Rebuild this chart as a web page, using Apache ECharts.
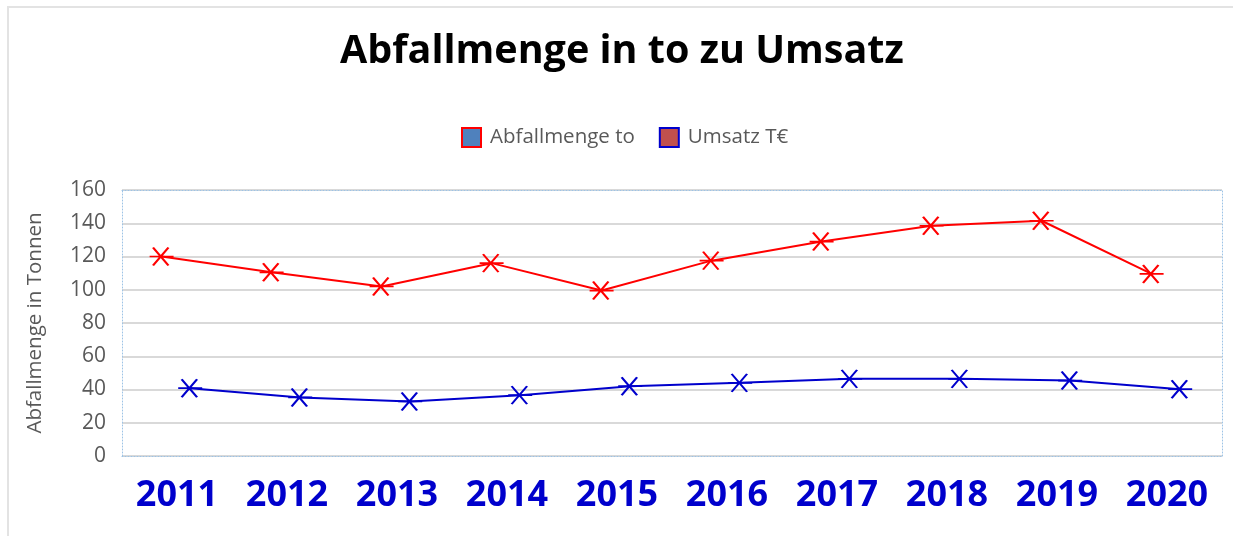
<!DOCTYPE html>
<html>
<head>
<meta charset="utf-8">
<script src="https://cdn.jsdelivr.net/npm/echarts@6/dist/echarts.min.js"></script>
<style>
  html, body { margin: 0; padding: 0; background: #fff; }
  #chart { width: 1233px; height: 536px; }
</style>
</head>
<body>
<div id="chart"></div>
<script>
var years = ['2011', '2012', '2013', '2014', '2015', '2016', '2017', '2018', '2019', '2020'];
var abfallmenge = [120, 110.5, 102, 116, 99.5, 117.5, 129, 138.5, 141.5, 109.5];
var umsatz = [40.8, 35.2, 32.8, 36.6, 42, 44, 46.4, 46.4, 45.4, 40.2];
var yTicks = [0, 20, 40, 60, 80, 100, 120, 140, 160];

// Excel zeichnet die beiden Reihen leicht versetzt zur Kategoriemitte
var redShift = -0.14;
var blueShift = 0.12;

function toPoints(values, shift) {
  var res = [];
  for (var i = 0; i < values.length; i++) {
    res.push([i + 0.5 + shift, values[i]]);
  }
  return res;
}

// Sternmarker: X mit waagrechtem Strich
var starSymbol = 'path://M2,2L20,18M20,2L2,18M-2,10L26,10';
var dotted = { color: '#9dc3e6', type: [1, 2], width: 1 };

var chart = echarts.init(document.getElementById('chart'));
var option = {
  backgroundColor: '#fff',
  animation: false,
  textStyle: { fontFamily: 'Open Sans' },
  graphic: [{
    type: 'rect',
    shape: { x: 8, y: 7, width: 1400, height: 700 },
    style: { fill: 'none', stroke: '#e3e3e3', lineWidth: 2 },
    silent: true
  }],
  title: {
    text: 'Abfallmenge in to zu Umsatz',
    left: 335,
    top: 27,
    textStyle: { fontSize: 39.5, fontWeight: 'bold', color: '#000', fontFamily: 'Open Sans' }
  },
  legend: {
    left: 456,
    top: 122,
    itemWidth: 19,
    itemHeight: 19,
    itemGap: 24,
    icon: 'rect',
    textStyle: { fontSize: 20.5, color: '#595959', padding: [0, 0, 0, 4] },
    data: [
      { name: 'Abfallmenge to', itemStyle: { color: '#4f81bd', borderColor: '#ff0000', borderWidth: 2 } },
      { name: 'Umsatz T€', itemStyle: { color: '#c0504d', borderColor: '#0000cc', borderWidth: 2 } }
    ]
  },
  grid: { left: 122, right: 11, top: 190, bottom: 80 },
  xAxis: [{
    type: 'category',
    data: years,
    boundaryGap: true,
    position: 'bottom',
    axisLine: { show: true, lineStyle: dotted },
    axisTick: { show: false },
    axisLabel: { fontSize: 36, fontWeight: 'bold', color: '#0000cc', margin: 22, fontFamily: 'Open Sans' },
    splitLine: { show: false }
  }, {
    type: 'value',
    min: 0,
    max: 10,
    position: 'top',
    axisLine: { show: true, onZero: false, lineStyle: dotted },
    axisTick: { show: false },
    axisLabel: { show: false },
    splitLine: { show: false }
  }],
  yAxis: [{
    type: 'value',
    min: 0,
    max: 160,
    interval: 20,
    name: 'Abfallmenge in Tonnen',
    nameLocation: 'middle',
    nameRotate: 90,
    nameGap: 76,
    nameTextStyle: { fontSize: 20.5, color: '#595959' },
    axisLine: { show: true, lineStyle: dotted },
    axisTick: { show: false },
    axisLabel: {
      fontSize: 21, color: '#595959', margin: 16,
      formatter: function (v) { return yTicks.indexOf(v) >= 0 ? String(v) : ''; }
    },
    splitLine: { show: true, lineStyle: { color: '#d9d9d9', width: 2 } }
  }, {
    type: 'value',
    min: 0,
    max: 160,
    interval: 20,
    position: 'right',
    axisLine: { show: true, lineStyle: dotted },
    axisTick: { show: false },
    axisLabel: { show: false },
    splitLine: { show: false }
  }],
  series: [{
    name: 'Abfallmenge to',
    type: 'line',
    xAxisIndex: 1,
    yAxisIndex: 0,
    data: toPoints(abfallmenge, redShift),
    symbol: starSymbol,
    symbolSize: [24, 18],
    showAllSymbol: true,
    lineStyle: { color: '#ff0000', width: 2 },
    itemStyle: { color: 'none', borderColor: '#ff0000', borderWidth: 2 }
  }, {
    name: 'Umsatz T€',
    type: 'line',
    xAxisIndex: 1,
    yAxisIndex: 0,
    data: toPoints(umsatz, blueShift),
    symbol: starSymbol,
    symbolSize: [24, 18],
    showAllSymbol: true,
    lineStyle: { color: '#0000cc', width: 2 },
    itemStyle: { color: 'none', borderColor: '#0000cc', borderWidth: 2 }
  }]
};
chart.setOption(option);
</script>
</body>
</html>
